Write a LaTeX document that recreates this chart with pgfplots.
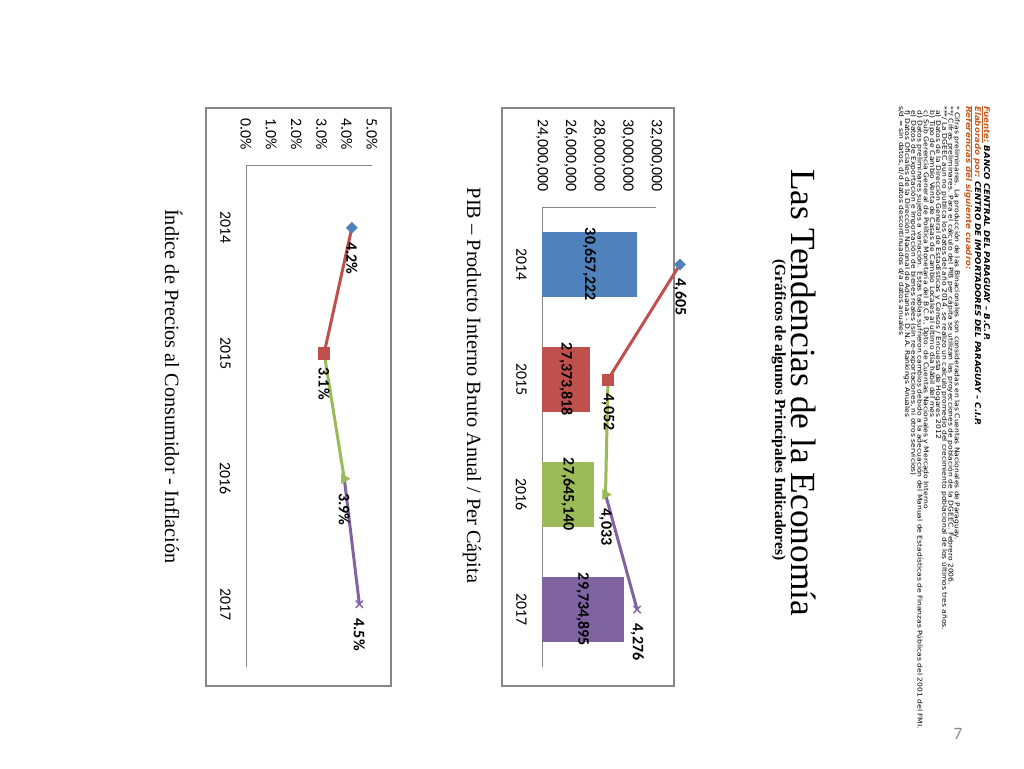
\documentclass[border=0pt]{standalone}
\usepackage{fontspec}
\setmainfont{Liberation Serif}
\newfontfamily\calibri{Carlito}
\newfontfamily\tahoma{DejaVu Sans}
\usepackage{pgfplots}
\pgfplotsset{compat=1.18}
\usepackage{pgfplotstable}

\definecolor{cA}{RGB}{79,129,189}
\definecolor{cB}{RGB}{192,80,77}
\definecolor{cC}{RGB}{155,187,89}
\definecolor{cD}{RGB}{128,100,162}
\definecolor{axgray}{RGB}{134,134,134}
\definecolor{hdr}{RGB}{200,90,30}
\definecolor{pnum}{RGB}{140,140,140}

% PIB anual (bars); mid = centre of the bar, for the centred data label
\pgfplotstableread{
cat val mid lab
3 30657222 27328611 30,657,222
2 27373818 25686909 27,373,818
1 27645140 25822570 27,645,140
0 29734895 26867447.5 29,734,895
}\pibtab

% PIB per capita (line)
\pgfplotstableread{
cat val
3 4605
2 4052
1 4033
0 4276
}\pctab

% Inflacion
\pgfplotstableread{
cat val
3 4.2
2 3.1
1 3.9
0 4.5
}\ipctab

\newcommand\tickfont{\calibri\fontsize{11.9}{14}\selectfont}
\newcommand\lblfont{\calibri\bfseries\fontsize{12}{14}\selectfont}
\newcommand\smallfont{\tahoma\fontsize{4.9}{6}\selectfont}
\newcommand\hdrfont{\tahoma\bfseries\itshape\fontsize{6}{7}\selectfont}

\pgfplotsset{
  rotchart/.style={
    scale only axis, ymin=-0.5, ymax=3.5,
    axis x line*=top, axis y line*=left,
    axis line style={draw=axgray, line width=0.75pt},
    major tick length=0pt,
    ytick={0,1,2,3}, yticklabels={2017,2016,2015,2014},
    xticklabel style={yshift=8pt, rotate=-90, anchor=east, font=\tickfont, text=black},
    yticklabel style={xshift=-8pt, rotate=-90, anchor=north, font=\tickfont, text=black},
    /pgf/number format/assume math mode=true,
  },
  ptlabels/.style={
    draw=none, mark=none, nodes near coords={#1}, point meta=x,
    every node near coord/.append style={yshift=-9.5pt, rotate=-90, anchor=west, inner sep=1pt, font=\lblfont, text=black},
  },
}

\begin{document}
\begin{tikzpicture}
\useasboundingbox (0,0) rectangle (768pt,-576pt);
\fill[white] (0,0) rectangle (768pt,-576pt);

\begin{scope}[x=0.75pt,y=-0.75pt]
  % chart frames
  \draw[axgray, line width=0.9pt] (502,108) rectangle (674,686);
  \draw[axgray, line width=0.9pt] (206,108) rectangle (391,686);
  % titles
  \node[rotate=-90, anchor=base, font=\fontsize{26.5}{30}\selectfont] at (791,392.5) {Las Tendencias de la Economía};
  \node[rotate=-90, anchor=base, font=\bfseries\fontsize{11.6}{14}\selectfont] at (775,410) {(Gráficos de algunos Principales Indicadores)};
  \node[rotate=-90, anchor=base, font=\fontsize{15.2}{18}\selectfont] at (467,385.5) {PIB – Producto Interno Bruto Anual / Per Cápita};
  \node[rotate=-90, anchor=base, font=\fontsize{15.2}{18}\selectfont] at (165,386.5) {Índice de Precios al Consumidor - Inflación};
  % source block
  \begin{scope}[every node/.style={rotate=-90, anchor=base west, inner sep=0pt}]
    \node[font=\hdrfont, xscale=1.08] at (984,106) {\textcolor{hdr}{\underline{Fuente:}} BANCO CENTRAL DEL PARAGUAY – B.C.P.};
    \node[font=\hdrfont, xscale=1.08] at (975,106) {\textcolor{hdr}{\underline{Elaborado por:}} CENTRO DE IMPORTADORES DEL PARAGUAY – C.I.P.};
    \node[font=\hdrfont, xscale=1.08, text=hdr] at (966,106) {Referencias del siguiente cuadro:};
    \node[font=\smallfont, xscale=1.16] at (954.8,106) {* Cifras preliminares. La producción de las Binacionales son consideradas en las Cuentas Nacionales de Paraguay.};
    \node[font=\smallfont, xscale=1.16] at (948.6,106) {**/ Cifras preliminares. Para el cálculo del PIB per cápita se utilizan las proyecciones de población de la DGEEC. Febrero 2006.};
    \node[font=\smallfont, xscale=1.16] at (942.4,106) {***/ La DGEEC aun no publica los datos del año 2014, se realizo un calculo promedio del crecimiento poblacional de los últimos tres años.};
    \node[font=\smallfont, xscale=1.16] at (936.2,110) {a) Datos de la Dirección General de Estadísticas y Censos / Encuesta de Hogares 2012};
    \node[font=\smallfont, xscale=1.16] at (930.0,110) {b) Tipo de Cambio Venta de Casas de Cambio Locales al ultimo día hábil del mes};
    \node[font=\smallfont, xscale=1.16] at (923.8,110) {c) Sub Gerencia General de Política Monetaria del B.C.P., Dpto. de Cuentas Nacionales y Mercado Interno};
    \node[font=\smallfont, xscale=1.16] at (917.6,110) {d) Datos preliminares sujetos a variación. Estas tablas sufrieron cambios debido a la adecuación del Manual de Estadísticas de Finanzas Públicas del 2001 del FMI.};
    \node[font=\smallfont, xscale=1.16] at (911.4,110) {e) Datos de Exportación e Importación de bienes reales (sin re-exportaciones, ni otros servicios)};
    \node[font=\smallfont, xscale=1.16] at (905.2,110) {f) Datos Oficiales de la Dirección Nacional de Aduanas - D.N.A. Rankings Anuales};
    \node[font=\smallfont, xscale=1.16] at (899.0,106) {s/d = sin datos, d/d datos descontinuados d/a datos anuales};
  \end{scope}
  % page number
  \node[font=\calibri\fontsize{13}{15}\selectfont, text=pnum] at (958,734) {7};
\end{scope}

% ---------- PIB chart: bars ----------
\begin{axis}[rotchart,
  at={(406.5pt,-500.25pt)}, anchor=south west,
  width=85.5pt, height=345pt,
  xmin=24000000, xmax=32000000,
  xtick={24000000,26000000,28000000,30000000,32000000},
  xticklabels={{24,000,000},{26,000,000},{28,000,000},{30,000,000},{32,000,000}},
  scaled x ticks=false,
]
\addplot[xbar, bar shift=0pt, bar width=48.75pt, fill=cA, draw=none] coordinates {(30657222,3)};
\addplot[xbar, bar shift=0pt, bar width=48.75pt, fill=cB, draw=none] coordinates {(27373818,2)};
\addplot[xbar, bar shift=0pt, bar width=48.75pt, fill=cC, draw=none] coordinates {(27645140,1)};
\addplot[xbar, bar shift=0pt, bar width=48.75pt, fill=cD, draw=none] coordinates {(29734895,0)};
\addplot[draw=none, mark=none, nodes near coords, point meta=explicit symbolic,
  every node near coord/.append style={rotate=-90, anchor=center, font=\lblfont, text=black}]
  table[x=mid, y=cat, meta=lab] {\pibtab};
\end{axis}

% ---------- PIB per capita: line on secondary axis ----------
\begin{axis}[
  at={(406.5pt,-500.25pt)}, anchor=south west, scale only axis,
  width=85.5pt, height=345pt,
  xmin=3545, xmax=4421, ymin=-0.5, ymax=3.5,
  hide axis, clip=false,
  /pgf/number format/assume math mode=true,
]
\addplot[cB, line width=2.25pt] coordinates {(4605,3) (4052,2)};
\addplot[cC, line width=2.25pt] coordinates {(4052,2) (4033,1)};
\addplot[cD, line width=2.25pt] coordinates {(4033,1) (4276,0)};
\addplot[only marks, mark=square*, mark size=2.9pt, mark options={rotate=45, fill=cA, draw=cA}] coordinates {(4605,3)};
\addplot[only marks, mark=square*, mark size=4.2pt, mark options={fill=cB, draw=cB}] coordinates {(4052,2)};
\addplot[only marks, mark=triangle*, mark size=4.2pt, mark options={rotate=-90, fill=cC, draw=cC}] coordinates {(4033,1)};
\addplot[only marks, mark=x, mark size=3.8pt, mark options={draw=cD, line width=1pt}] coordinates {(4276,0)};
\addplot[ptlabels={\pgfmathprintnumber[fixed, precision=0, 1000 sep={,}]{\pgfplotspointmeta}}]
  table[x=val, y=cat] {\pctab};
\end{axis}

% ---------- Inflacion ----------
\begin{axis}[rotchart,
  at={(184.5pt,-500.25pt)}, anchor=south west,
  width=94.5pt, height=376.5pt,
  xmin=0, xmax=5, clip=false,
  xtick={0,1,2,3,4,5},
  xticklabels={0.0\%,1.0\%,2.0\%,3.0\%,4.0\%,5.0\%},
]
\addplot[cB, line width=2.25pt] coordinates {(4.2,3) (3.1,2)};
\addplot[cC, line width=2.25pt] coordinates {(3.1,2) (3.9,1)};
\addplot[cD, line width=2.25pt] coordinates {(3.9,1) (4.5,0)};
\addplot[only marks, mark=square*, mark size=2.9pt, mark options={rotate=45, fill=cA, draw=cA}] coordinates {(4.2,3)};
\addplot[only marks, mark=square*, mark size=4.2pt, mark options={fill=cB, draw=cB}] coordinates {(3.1,2)};
\addplot[only marks, mark=triangle*, mark size=4.2pt, mark options={rotate=-90, fill=cC, draw=cC}] coordinates {(3.9,1)};
\addplot[only marks, mark=x, mark size=3.8pt, mark options={draw=cD, line width=1pt}] coordinates {(4.5,0)};
\addplot[ptlabels={\pgfmathprintnumber[fixed, fixed zerofill, precision=1]{\pgfplotspointmeta}\%}]
  table[x=val, y=cat] {\ipctab};
\end{axis}
\end{tikzpicture}
\end{document}
